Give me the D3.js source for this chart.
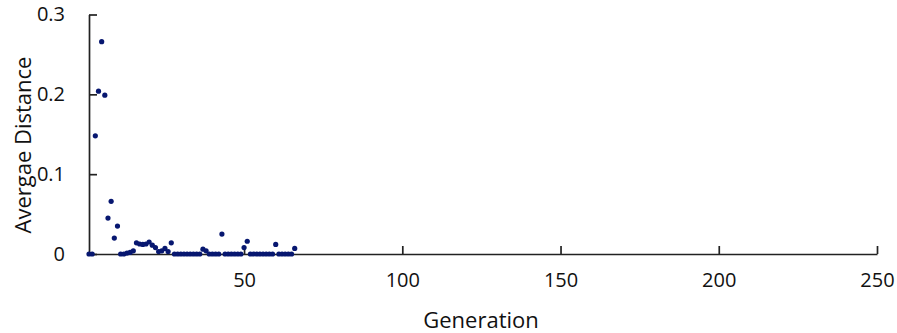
<!DOCTYPE html>
<html>
<head>
<meta charset="utf-8">
<script src="https://cdn.jsdelivr.net/npm/d3@7"></script>
<style>
  html, body { margin: 0; padding: 0; background: #ffffff; }
  svg { display: block; }
  text { font-family: "Open Sans", "Noto Sans", sans-serif; fill: #111; }
</style>
</head>
<body>
<svg id="chart" width="897" height="333"></svg>
<script>
// Generations 1..66
const generations = d3.range(1, 67);
const distances = [
  0, 0, 0.148, 0.204, 0.266, 0.199, 0.045, 0.066, 0.020, 0.035,
  0, 0, 0.001, 0.002, 0.004, 0.014, 0.0125, 0.012, 0.0125, 0.015,
  0.011, 0.008, 0.003, 0.004, 0.007, 0.003, 0.014, 0, 0, 0,
  0, 0, 0, 0, 0, 0, 0.006, 0.004, 0, 0,
  0, 0, 0.025, 0, 0, 0, 0, 0, 0, 0.008,
  0.016, 0, 0, 0, 0, 0, 0, 0, 0, 0.012,
  0, 0, 0, 0, 0, 0.007
];
const xTicks = [50, 100, 150, 200, 250];
const yTicks = [0, 0.1, 0.2, 0.3];
const xTitle = "Generation";
const yTitle = "Avergae Distance";

const data = generations.map((g, i) => ({ g, v: distances[i] }));

const svg = d3.select("#chart");
const x = d3.scaleLinear().domain([1, 250]).range([89, 877]);
const y = d3.scaleLinear().domain([0, 0.3]).range([254, 14.5]);
const axisColor = "#222";

// x axis
const gx = svg.append("g").attr("transform", `translate(0,${y(0)})`);
gx.call(d3.axisBottom(x).tickValues(xTicks).tickSizeInner(-8).tickSizeOuter(0).tickPadding(19).tickFormat(d3.format("d")));
gx.select(".domain").attr("stroke", axisColor).attr("stroke-width", 1.7);
gx.selectAll(".tick line").attr("stroke", axisColor).attr("stroke-width", 1.7);
gx.selectAll(".tick text").attr("font-size", 20).attr("font-family", "'Open Sans', sans-serif").attr("fill", "#111");

// y axis
const gy = svg.append("g").attr("transform", `translate(${x(1)},0)`);
gy.call(d3.axisLeft(y).tickValues(yTicks).tickSizeInner(-8).tickSizeOuter(0).tickPadding(24)
  .tickFormat(d => d === 0 ? "0" : d3.format(".1f")(d)));
gy.select(".domain").attr("stroke", axisColor).attr("stroke-width", 1.7);
gy.selectAll(".tick line").attr("stroke", axisColor).attr("stroke-width", 1.7);
gy.selectAll(".tick text").attr("font-size", 20).attr("font-family", "'Open Sans', sans-serif").attr("fill", "#111");

// points
svg.append("g").selectAll("circle").data(data).join("circle")
  .attr("cx", d => x(d.g))
  .attr("cy", d => y(d.v))
  .attr("r", 2.6)
  .attr("fill", "#071770");

// titles
svg.append("text")
  .attr("x", 481).attr("y", 328)
  .attr("text-anchor", "middle")
  .attr("font-size", 22)
  .text(xTitle);

svg.append("text")
  .attr("transform", `translate(31,145) rotate(-90)`)
  .attr("text-anchor", "middle")
  .attr("font-size", 22)
  .text(yTitle);
</script>
</body>
</html>
